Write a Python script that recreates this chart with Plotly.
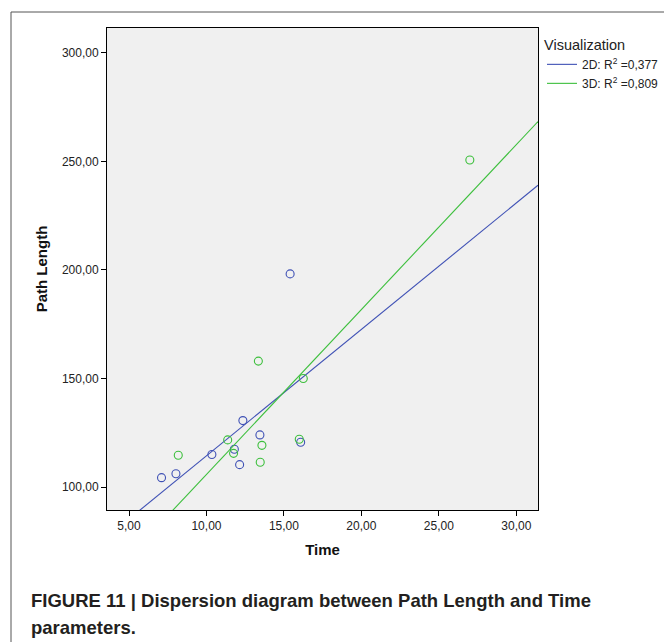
import numpy as np
import plotly.graph_objects as go

# Data
time_2d = [15.4, 12.35, 13.45, 11.8, 10.35, 16.08, 12.14, 8.03, 7.1]
path_2d = [198.2, 130.6, 124.0, 117.4, 115.0, 120.6, 110.3, 106.1, 104.3]
time_3d = [13.35, 16.25, 11.37, 8.18, 11.75, 13.58, 15.99, 13.47, 27.0]
path_3d = [158.0, 150.0, 121.7, 114.6, 115.5, 119.2, 122.0, 111.4, 250.7]
labels = ["2D: R<sup>2</sup> =0,377", "3D: R<sup>2</sup> =0,809"]
x_ticks = [5, 10, 15, 20, 25, 30]
y_ticks = [100, 150, 200, 250, 300]
x_range = [3.58, 31.4]
y_range = [89.4, 311.5]

BLUE = "#3f51b5"
GREEN = "#3cbf3c"
FONT = "Liberation Sans, Arial, sans-serif"

# The page body has an 8px margin, so the figure is 8px smaller each way.
PL, PR, PT, PB = 107, 538, 28, 510          # plot area in window pixels
OFF = 8
W, H = 672 - OFF, 642 - OFF


def px(X):
    return (X - PL) / (PR - PL)


def py(Y):
    return (PB - Y) / (PB - PT)


fig = go.Figure()
for xs, ys, col, lab in [(time_2d, path_2d, BLUE, labels[0]),
                         (time_3d, path_3d, GREEN, labels[1])]:
    fig.add_trace(go.Scatter(x=xs, y=ys, mode="markers", showlegend=False,
                             marker=dict(symbol="circle-open", size=8,
                                         color=col, line=dict(width=1.1))))
    b, a = np.polyfit(xs, ys, 1)
    lx = np.array(x_range)
    fig.add_trace(go.Scatter(x=lx, y=a + b * lx, mode="lines", name=lab,
                             line=dict(color=col, width=1.1)))

fig.update_layout(
    width=W, height=H,
    margin=dict(l=PL - OFF, r=W - (PR - OFF), t=PT - OFF, b=H - (PB - OFF),
                autoexpand=False),
    paper_bgcolor="white", plot_bgcolor="#f0f0f0",
    separators=",.",
    font=dict(family=FONT, color="#222222"),
    showlegend=True,
    legend=dict(x=px(542), y=py(31), xanchor="left", yanchor="top",
                title=dict(text="Visualization", font=dict(size=14.5, color="#222")),
                font=dict(size=12, color="#222"), bgcolor="rgba(0,0,0,0)",
                itemwidth=30, tracegroupgap=0),
)
fig.update_xaxes(range=x_range, tickvals=x_ticks, tickformat=".2f",
                 showgrid=False, zeroline=False, ticks="outside", ticklen=5,
                 tickcolor="black", showline=True, linecolor="black", linewidth=1,
                 mirror=True, tickfont=dict(size=12, color="#222"),
                 title=dict(text="<b>Time</b>", font=dict(size=15, color="#111"), standoff=12))
fig.update_yaxes(range=y_range, tickvals=y_ticks, tickformat=".2f",
                 showgrid=False, zeroline=False, ticks="outside", ticklen=5,
                 tickcolor="black", showline=True, linecolor="black", linewidth=1,
                 mirror=True, tickfont=dict(size=12, color="#222"),
                 title=dict(text="<b>Path Length</b>", font=dict(size=15, color="#111"), standoff=10))

# outer figure frame
fig.add_shape(type="rect", xref="paper", yref="paper",
              x0=px(11), x1=px(666), y0=py(700), y1=py(12),
              line=dict(color="#555555", width=1), layer="below")

# caption
cap = ["<b>FIGURE 11 | Dispersion diagram between Path Length and Time</b>",
       "<b>parameters.</b>"]
for t, yy in zip(cap, [600, 627]):
    fig.add_annotation(xref="paper", yref="paper", x=px(29), y=py(yy),
                       xanchor="left", yanchor="middle", showarrow=False, text=t,
                       font=dict(size=18.5, color="#231f20", family=FONT))

fig.write_html("out.html")
